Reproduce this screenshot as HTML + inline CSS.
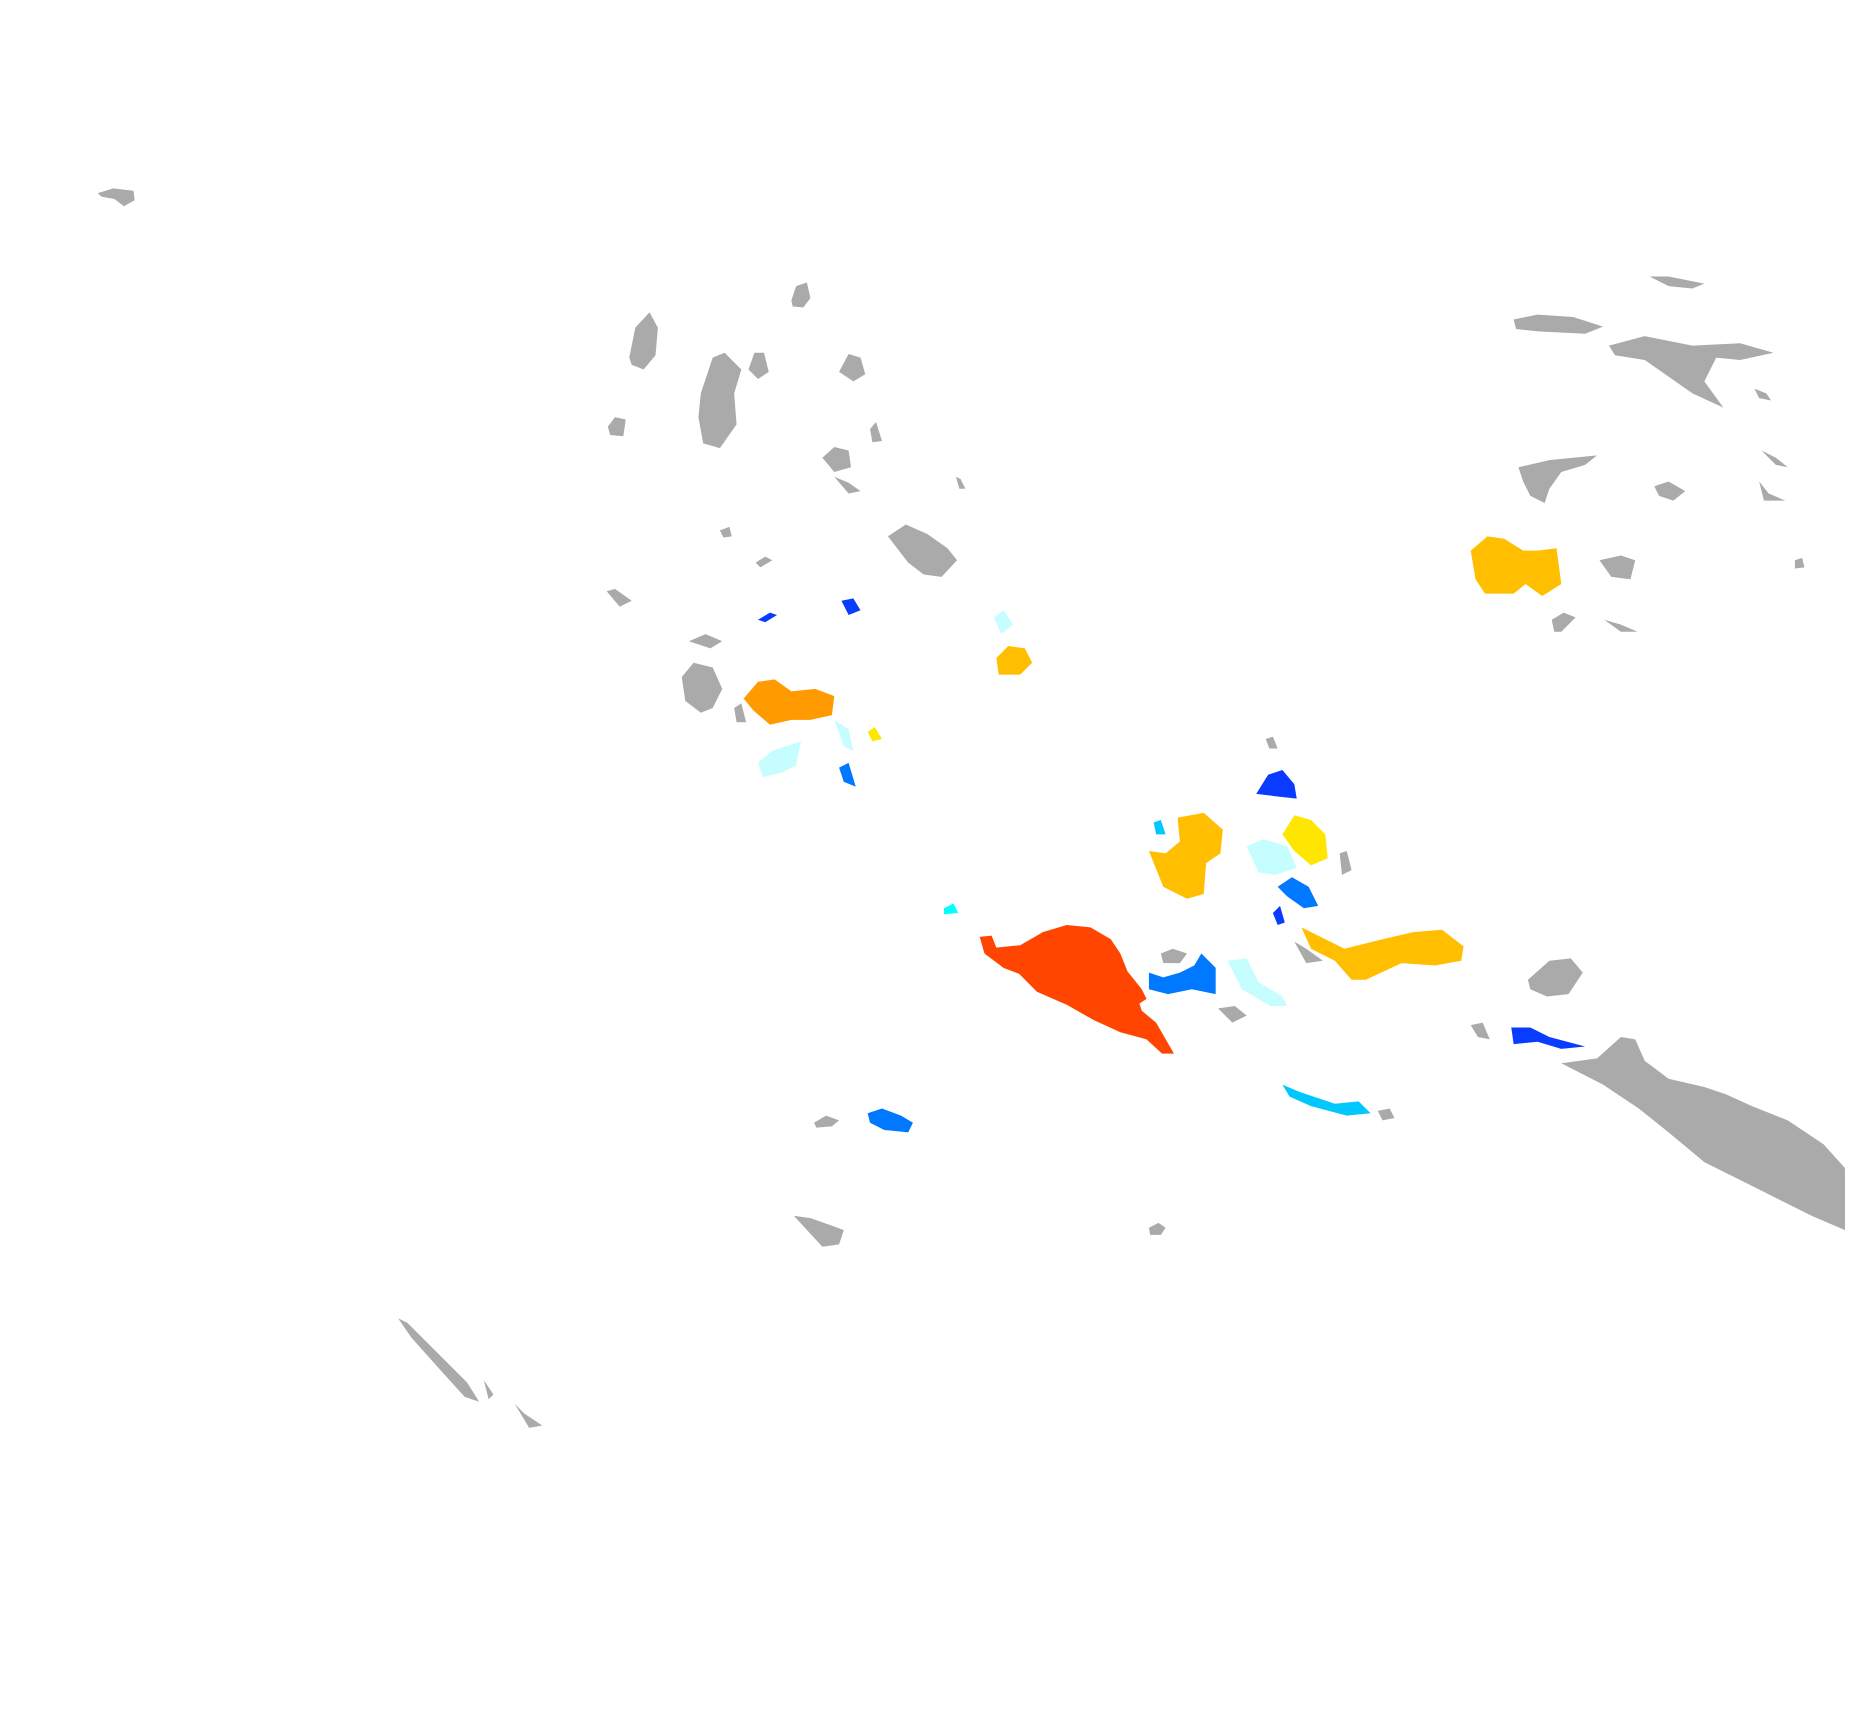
<!DOCTYPE html>
<html><head><meta charset="utf-8"><style>html,body{margin:0;padding:0;background:#fff}svg{display:block}</style></head>
<body>
<svg width="1870" height="1714" viewBox="0 0 1569 1438" preserveAspectRatio="none" xmlns="http://www.w3.org/2000/svg">
<g fill="#aaaaaa">
<polygon points="82,162 95,158 112,160 113,168 104,173 96,167 85,165"/>
<polygon points="528,300 533,275 545,262 552,275 550,298 540,310 530,306"/>
<polygon points="664,252 668,240 677,237 680,250 674,258 665,257"/>
<polygon points="510,358 516,350 525,352 523,366 512,365"/>
<polygon points="588,330 598,300 608,296 622,310 616,330 618,356 604,376 590,372 586,350"/>
<polygon points="628,310 633,296 641,296 645,312 636,318"/>
<polygon points="704,312 712,297 722,300 726,314 716,320"/>
<polygon points="730,360 735,354 740,370 732,371"/>
<polygon points="690,384 700,375 712,378 714,392 700,396"/>
<polygon points="700,400 712,405 722,412 712,414"/>
<polygon points="802,400 806,402 810,410 805,410"/>
<polygon points="745,450 760,440 778,448 795,460 803,470 790,484 775,482 762,472"/>
<polygon points="604,445 612,442 614,450 607,451"/>
<polygon points="634,472 642,467 648,470 638,476"/>
<polygon points="509,496 516,494 530,504 520,509"/>
<polygon points="578,538 592,532 606,538 596,544"/>
<polygon points="572,568 582,556 598,560 606,578 598,594 588,598 575,588"/>
<polygon points="616,594 622,590 626,606 618,606"/>
<polygon points="683,942 693,936 704,940 698,945 685,946"/>
<polygon points="666,1020 680,1022 697,1028 708,1032 704,1044 690,1046"/>
<polygon points="964,1030 972,1026 978,1030 974,1036 965,1036"/>
<polygon points="334,1106 342,1110 370,1138 392,1160 402,1176 390,1172 370,1150 345,1122"/>
<polygon points="406,1158 414,1170 410,1174"/>
<polygon points="432,1178 440,1186 455,1196 444,1198"/>
<polygon points="1270,268 1290,264 1320,266 1345,274 1330,280 1290,278 1272,276"/>
<polygon points="1384,232 1400,232 1430,238 1420,242 1400,240"/>
<polygon points="1350,290 1380,282 1420,290 1460,288 1488,296 1460,302 1440,300 1430,320 1446,342 1420,330 1400,316 1380,302 1355,298"/>
<polygon points="1472,326 1482,330 1486,336 1476,334"/>
<polygon points="1274,392 1300,386 1340,382 1330,390 1310,396 1300,410 1296,422 1284,416 1278,404"/>
<polygon points="1388,408 1400,404 1414,412 1404,420 1392,416"/>
<polygon points="1478,378 1490,384 1500,392 1490,390"/>
<polygon points="1476,404 1484,414 1498,420 1480,420"/>
<polygon points="1506,470 1512,468 1514,476 1506,477"/>
<polygon points="1342,470 1360,466 1372,470 1368,486 1352,484"/>
<polygon points="1302,520 1312,514 1322,518 1310,530 1304,530"/>
<polygon points="1346,520 1360,524 1374,530 1360,530"/>
<polygon points="1282,822 1300,806 1318,804 1328,816 1316,834 1298,836 1284,830"/>
<polygon points="1234,860 1244,858 1250,872 1240,870"/>
<polygon points="1310,892 1340,888 1360,870 1372,872 1380,890 1400,905 1430,912 1448,918 1470,928 1500,940 1530,960 1548,980 1548,1032 1520,1020 1480,1000 1430,975 1400,950 1375,930 1345,910"/>
<polygon points="1062,620 1068,618 1072,628 1065,628"/>
<polygon points="1124,716 1130,714 1134,730 1126,734"/>
<polygon points="974,800 984,796 996,800 990,808 976,808"/>
<polygon points="1022,846 1036,844 1046,852 1034,858"/>
<polygon points="1086,790 1096,796 1110,806 1096,808"/>
<polygon points="1156,932 1166,930 1170,938 1160,940"/>
</g>
<g fill="#ff4500"><polygon points="822,786 832,785 836,795 856,793 875,782 895,776 915,778 932,788 940,800 946,815 958,830 962,838 956,842 958,848 970,858 985,884 975,884 962,872 940,866 918,856 895,843 870,832 855,817 842,812 826,800"/></g>
<g fill="#ffbf00">
<polygon points="1234,462 1248,450 1262,452 1278,462 1290,462 1306,460 1310,490 1294,500 1280,490 1270,498 1246,498 1238,486"/>
<polygon points="836,552 846,542 860,544 866,556 856,566 838,566"/>
<polygon points="964,714 978,716 990,706 988,686 1010,682 1026,696 1024,716 1012,724 1010,750 996,754 976,744"/>
<polygon points="1092,778 1104,784 1128,796 1160,788 1186,782 1210,780 1228,794 1226,806 1204,810 1176,808 1146,822 1134,822 1120,806 1100,796"/>
</g>
<g fill="#ff9a00"><polygon points="624,586 636,572 650,570 664,580 684,578 700,584 698,600 680,604 664,604 646,608 632,596"/></g>
<g fill="#ffe600">
<polygon points="1076,700 1086,684 1100,688 1112,700 1114,720 1100,726 1086,714"/>
<polygon points="728,614 734,610 740,620 732,622"/>
</g>
<g fill="#c6fdff">
<polygon points="636,640 648,630 660,626 672,622 668,642 656,648 640,652"/>
<polygon points="700,604 712,612 716,630 708,626"/>
<polygon points="834,518 842,512 850,524 840,532"/>
<polygon points="1046,710 1060,704 1080,710 1088,728 1070,734 1056,732"/>
<polygon points="1030,806 1046,804 1056,824 1076,836 1080,844 1066,844 1042,830"/>
</g>
<g fill="#00ffff"><polygon points="792,762 800,758 804,766 792,767"/></g>
<g fill="#00c8ff">
<polygon points="968,690 974,688 978,700 970,700"/>
<polygon points="1076,910 1090,916 1120,926 1140,924 1150,934 1130,936 1100,928 1082,920"/>
</g>
<g fill="#0078ff">
<polygon points="728,934 740,930 756,936 766,942 762,950 742,948 730,942"/>
<polygon points="1072,744 1084,736 1098,744 1106,760 1094,762 1080,752"/>
<polygon points="964,816 976,820 990,816 1002,810 1008,800 1020,812 1020,834 1000,830 980,834 964,830"/>
<polygon points="704,644 712,640 718,660 708,656"/>
</g>
<g fill="#0a3cff">
<polygon points="1054,666 1064,650 1076,646 1086,658 1088,670 1070,668"/>
<polygon points="1268,862 1284,862 1300,870 1330,878 1310,880 1290,874 1270,876"/>
<polygon points="1068,766 1074,760 1078,774 1072,776"/>
<polygon points="636,520 646,514 652,516 642,522"/>
<polygon points="706,504 716,502 722,512 712,516"/>
</g>
</svg>
</body></html>
